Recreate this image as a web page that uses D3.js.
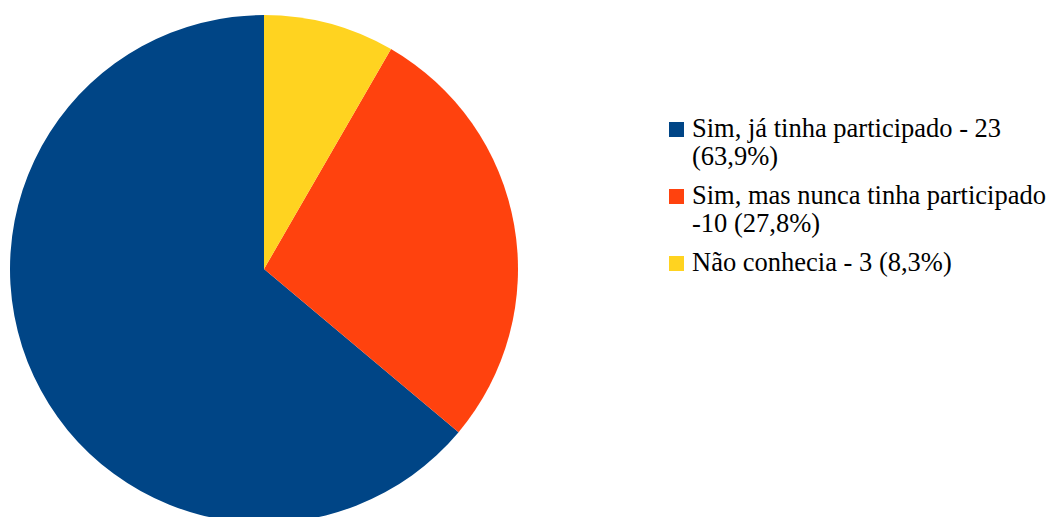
<!DOCTYPE html>
<html>
<head>
<meta charset="utf-8">
<script src="https://cdn.jsdelivr.net/npm/d3@7"></script>
<style>
  body { margin: 0; background: #fff; }
  svg { display: block; }
  .legend text { font-family: "Liberation Serif", "Times New Roman", Times, serif; font-size: 26.5px; fill: #000; }
</style>
</head>
<body>
<script>
var svgwidth = 1054,
    svgheight = 517;

// chart data
var labels = ["Sim, já tinha participado - 23 (63,9%)",
              "Sim, mas nunca tinha participado -10 (27,8%)",
              "Não conhecia - 3 (8,3%)"];
// legend lines as they wrap in the picture
var legendLines = [["Sim, já tinha participado - 23", "(63,9%)"],
                   ["Sim, mas nunca tinha participado", "-10 (27,8%)"],
                   ["Não conhecia - 3 (8,3%)"]];
var values = [23, 10, 3];
var colors = ["#004586", "#ff420e", "#ffd320"];

var svg = d3.select("body").append("svg")
    .attr("width", svgwidth)
    .attr("height", svgheight);

var cx = 264, cy = 269, radius = 254;

// pie goes counterclockwise from 12 o'clock
var pie = d3.pie().sort(null).startAngle(0).endAngle(-2 * Math.PI);
var arc = d3.arc().innerRadius(0).outerRadius(radius);

var g = svg.append("g")
    .attr("transform", "translate(" + cx + "," + cy + ")");

g.selectAll("path")
  .data(pie(values))
  .enter().append("path")
    .attr("d", arc)
    .attr("fill", function(d, i) { return colors[i]; });

// legend: first-line baseline of each entry
var legend = svg.append("g")
    .attr("class", "legend")
    .attr("transform", "translate(669,0)");
var baselines = [137, 204, 271];
var lineH = 28;

legendLines.forEach(function(lines, i) {
  legend.append("rect")
    .attr("x", 0)
    .attr("y", baselines[i] - 15)
    .attr("width", 15)
    .attr("height", 15)
    .attr("fill", colors[i]);
  var t = legend.append("text");
  lines.forEach(function(s, j) {
    t.append("tspan")
      .attr("x", 23)
      .attr("y", baselines[i] + j * lineH)
      .text(s);
  });
});
</script>
</body>
</html>
